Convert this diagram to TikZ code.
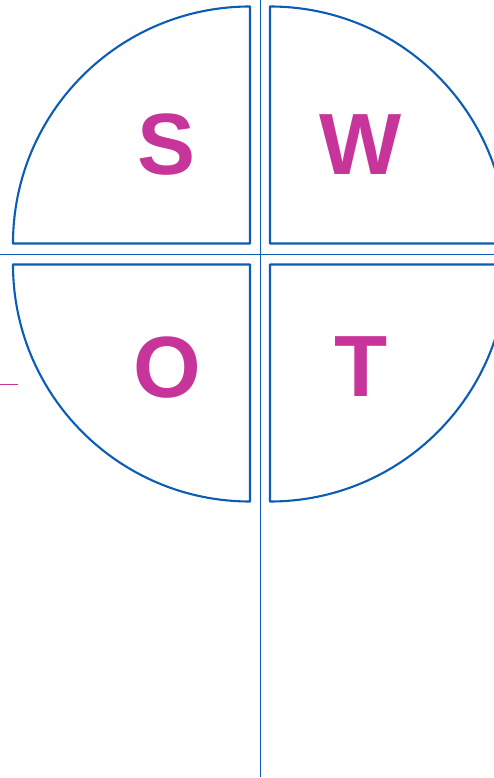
\documentclass[tikz,border=0pt]{standalone}
\usepackage{fontspec}
\setmainfont{Liberation Sans}
\definecolor{qblue}{HTML}{0B5CB5}
\definecolor{qmag}{HTML}{C8359A}
\tikzset{
  quad/.style={draw=qblue,line width=2.1pt,line join=round},
  axis/.style={draw=qblue,line width=1pt},
  letter/.style={text=qmag,font=\fontsize{87}{87}\selectfont\bfseries,inner sep=0pt,anchor=center}
}
\begin{document}
\begin{tikzpicture}[x=1pt,y=1pt]
\useasboundingbox (0,0) rectangle (494,-778);
% axes
\coordinate (vt) at (260.5,0);
\coordinate (vb) at (260.5,-777);
\coordinate (hl) at (0,-254);
\coordinate (hr) at (494,-254);
\draw[axis] (vt) -- (vb);
\draw[axis] (hl) -- (hr);
% quadrants
\coordinate (ctl) at (250,-243.5);
\coordinate (ctr) at (270,-243.5);
\coordinate (cbl) at (250,-264.5);
\coordinate (cbr) at (270,-264.5);
\draw[quad] (ctl) -- ++(-237,0) arc[start angle=180,end angle=90,radius=237] -- cycle;
\draw[quad] (ctr) -- ++(0,237) arc[start angle=90,end angle=0,radius=237] -- cycle;
\draw[quad] (cbl) -- ++(-237,0) arc[start angle=180,end angle=270,radius=237] -- cycle;
\draw[quad] (cbr) -- ++(0,-237) arc[start angle=270,end angle=360,radius=237] -- cycle;
% letters
\node[letter] (s) at (167,-145) {S};
\node[letter] (w) at (361,-145) {W};
\node[letter] (o) at (167,-368) {O};
\node[letter] (t) at (361,-367) {T};
% small magenta tick
\coordinate (ma) at (0,-384);
\coordinate (mb) at (18,-384);
\draw[draw=qmag,line width=0.8pt] (ma) -- (mb);
\end{tikzpicture}
\end{document}
